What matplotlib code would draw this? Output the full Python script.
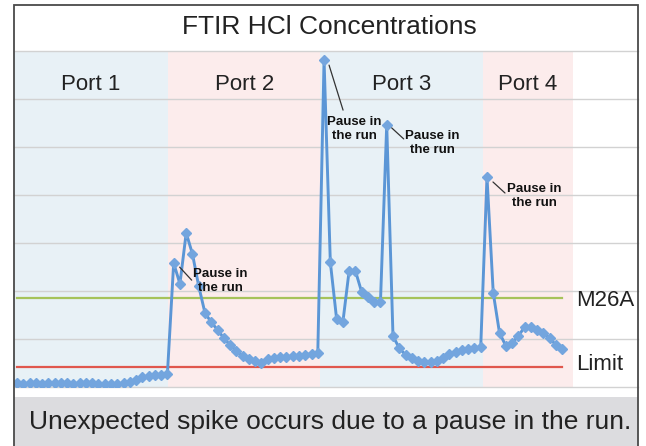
import matplotlib
matplotlib.use("Agg")
import matplotlib.pyplot as plt
from matplotlib.patches import Rectangle
import numpy as np

# HCl readings per port, one value per sample (grid units)
port1 = [0.08, 0.07, 0.08, 0.08, 0.07, 0.08, 0.08, 0.08, 0.08, 0.07, 0.08, 0.08, 0.08,
         0.07, 0.07, 0.06, 0.06, 0.08, 0.11, 0.15, 0.20, 0.23, 0.24, 0.25, 0.27]
port2 = [2.58, 2.15, 3.21, 2.77, 2.10, 1.54, 1.35, 1.19, 1.02, 0.875, 0.75, 0.65,
         0.58, 0.54, 0.50, 0.58, 0.60, 0.625, 0.625, 0.65, 0.65, 0.67, 0.69, 0.71]
port3 = [6.81, 2.60, 1.42, 1.35, 2.42, 2.42, 1.98, 1.875, 1.77, 1.77, 5.46,
         1.06, 0.81, 0.67, 0.60, 0.54, 0.52, 0.52, 0.54, 0.60, 0.69, 0.73, 0.77,
         0.79, 0.81, 0.83]
port4 = [4.375, 1.96, 1.125, 0.86, 0.92, 1.06, 1.25, 1.25, 1.19, 1.125, 1.02, 0.875, 0.79]

port_names = ["Port 1", "Port 2", "Port 3", "Port 4"]
port_edges = [-0.48, 24.1, 48.4, 74.4, 88.7]
port_colors = ["#e8f1f6", "#fcecec", "#e8f1f6", "#fcecec"]

m26a = 1.85
limit = 0.42

# sample index of each "pause in the run" spike
pause_idx = [25, 49, 59, 75]

values = port1 + port2 + port3 + port4
x = np.arange(len(values))

fig = plt.figure(figsize=(6.46, 4.46), dpi=100, facecolor="white")
W, H = 646, 446

def fx(px):
    return px / W

def fy(py):
    return 1 - py / H

# grey caption band + frame
fig.patches.append(Rectangle((fx(14), 0), fx(638) - fx(14), fy(397), transform=fig.transFigure,
                             facecolor="#dcdcdf", edgecolor="none", zorder=0))
fig.patches.append(Rectangle((fx(14), -0.01), fx(638) - fx(14), fy(5) + 0.01, transform=fig.transFigure,
                             facecolor="none", edgecolor="#4a4a4a", lw=1.3, zorder=5))

ax = fig.add_axes([fx(14), fy(387), fx(638) - fx(14), fy(51) - fy(387)])
ax.set_xlim(-0.48, 99.1)
ax.set_ylim(0, 7)
for s in ax.spines.values():
    s.set_visible(False)
ax.set_xticks([])
ax.set_yticks([])

for i in range(4):
    ax.axvspan(port_edges[i], port_edges[i + 1], color=port_colors[i], zorder=0, lw=0)
    ax.text((port_edges[i] + port_edges[i + 1]) / 2, 6.31, port_names[i], ha="center", va="center",
            fontsize=16, color="#222222", family="Liberation Sans")

for g in range(8):
    ax.axhline(g, color="#d2d2d2", lw=1.0, zorder=1, clip_on=False)

ax.plot([0, len(values) - 1], [m26a, m26a], color="#a6c35a", lw=1.6, zorder=2)
ax.plot([0, len(values) - 1], [limit, limit], color="#e0574d", lw=1.6, zorder=2)
ax.text(89.2, m26a - 0.04, "M26A", ha="left", va="center", fontsize=16, color="#222222",
        family="Liberation Sans")
ax.text(89.2, limit + 0.04, "Limit", ha="left", va="center", fontsize=16, color="#222222",
        family="Liberation Sans")

ax.plot(x, values, color="#5b96d6", lw=2.1, marker="D", markersize=4.8,
        markerfacecolor="#73a5de", markeredgecolor="#73a5de", zorder=3)

# annotations: (line start offset, line end offset, text centre offset) in pixels
ann_offsets = [((6, -4), (18, -17), (47, -18)),
               ((5, -5), (19, -50), (30, -69)),
               ((5, -3), (17, -14), (46, -18)),
               ((6, -5), (18, -16), (47, -19))]
for idx, (a, b, t) in zip(pause_idx, ann_offsets):
    p = ax.transData.transform((idx, values[idx]))
    s = ax.transData.inverted().transform((p[0] + a[0], p[1] + a[1]))
    e = ax.transData.inverted().transform((p[0] + b[0], p[1] + b[1]))
    ax.annotate("", xy=s, xytext=e, arrowprops=dict(arrowstyle="-", color="#333333", lw=0.9,
                                                    shrinkA=0, shrinkB=0), zorder=4)
    c = ax.transData.inverted().transform((p[0] + t[0], p[1] + t[1]))
    ax.text(c[0], c[1], "Pause in\nthe run", ha="center", va="center", fontsize=9.5,
            fontweight="bold", color="#111111", family="Liberation Sans", linespacing=1.15,
            zorder=4)

fig.text(fx(329), fy(27), "FTIR HCl Concentrations", ha="center", va="center", fontsize=19,
         color="#222222", family="Liberation Sans")
fig.text(fx(330), fy(422), "Unexpected spike occurs due to a pause in the run.", ha="center",
         va="center", fontsize=19, color="#222222", family="Liberation Sans")

fig.savefig("out.png", dpi=100, facecolor="white")
